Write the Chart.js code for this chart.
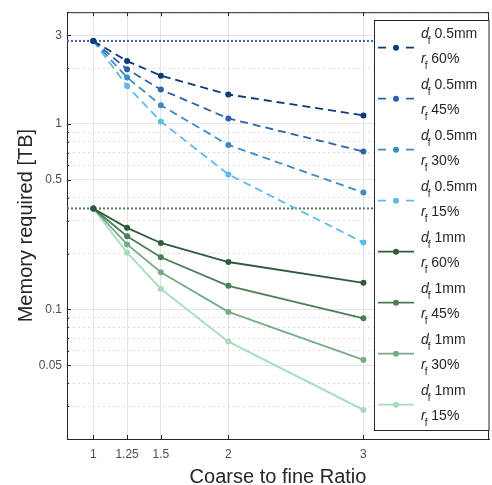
<!DOCTYPE html>
<html>
<head>
<meta charset="utf-8">
<script src="https://cdn.jsdelivr.net/npm/chart.js@4.4.1/dist/chart.umd.min.js"></script>
<style>
  html, body { margin: 0; padding: 0; background: #fff; }
  #wrap { width: 492px; height: 485px; }
</style>
</head>
<body>
<div id="wrap"><canvas id="memChart"></canvas></div>
<script>
// Coarse to fine ratio (x)
const ratios = [1, 1.25, 1.5, 2, 3];

// Memory required [TB], d_f 0.5mm
const d05_r60 = [2.8, 2.18, 1.82, 1.44, 1.11];
const d05_r45 = [2.8, 1.97, 1.53, 1.07, 0.71];
const d05_r30 = [2.8, 1.78, 1.26, 0.77, 0.426];
const d05_r15 = [2.8, 1.60, 1.03, 0.534, 0.229];

// Memory required [TB], d_f 1mm
const d1_r60 = [0.35, 0.275, 0.228, 0.180, 0.139];
const d1_r45 = [0.35, 0.248, 0.191, 0.134, 0.0895];
const d1_r30 = [0.35, 0.224, 0.1585, 0.0969, 0.0534];
const d1_r15 = [0.35, 0.202, 0.129, 0.067, 0.0287];

// dotted reference levels (full resolution)
const refBlue = 2.8;
const refGreen = 0.35;

// legend text
const dfLabels = ['0.5mm', '0.5mm', '0.5mm', '0.5mm', '1mm', '1mm', '1mm', '1mm'];
const rfLabels = ['60%', '45%', '30%', '15%', '60%', '45%', '30%', '15%'];

// axis ticks
const xTicks = [1, 1.25, 1.5, 2, 3];
const yTicks = [0.02, 0.03, 0.04, 0.05, 0.06, 0.07, 0.08, 0.09, 0.1,
                0.2, 0.3, 0.4, 0.5, 0.6, 0.7, 0.8, 0.9, 1, 2, 3, 4];
const yLabelled = [0.05, 0.1, 0.5, 1, 3];

const X_MIN = 0.805, X_MAX = 3.93;
const FONT = '"Liberation Sans", Arial, Helvetica, sans-serif';
const INK = '#262626';

const seriesData = [d05_r60, d05_r45, d05_r30, d05_r15, d1_r60, d1_r45, d1_r30, d1_r15];
const seriesColors = ['#0d3a78', '#2b64a8', '#3d8cc6', '#5cbbe9',
                      '#2f5b3c', '#4c7d59', '#77ac88', '#a6dbbb'];

function toPoints(vals) {
    return vals.map((v, i) => ({ x: ratios[i], y: v }));
}

const datasets = seriesData.map((vals, i) => ({
    label: dfLabels[i] + ' ' + rfLabels[i],
    data: toPoints(vals),
    borderColor: seriesColors[i],
    backgroundColor: seriesColors[i],
    borderWidth: 1.8,
    borderDash: i < 4 ? [8, 5] : [],
    pointRadius: 3,
    pointBorderWidth: 0,
    pointHoverRadius: 3,
    tension: 0
}));

// reference dotted lines
[[refBlue, '#3f62a3'], [refGreen, '#4f7b58']].forEach(([lvl, col]) => {
    datasets.push({
        label: 'ref',
        data: [{ x: X_MIN, y: lvl }, { x: X_MAX, y: lvl }],
        borderColor: col,
        borderWidth: 2,
        borderDash: [2, 2],
        pointRadius: 0,
        isRef: true
    });
});

// box round the axes, with inward tick marks
const framePlugin = {
    id: 'frame',
    afterDatasetsDraw(chart) {
        const { ctx, chartArea: a, scales } = chart;
        ctx.save();
        ctx.strokeStyle = INK;
        ctx.lineWidth = 1;
        ctx.beginPath();
        ctx.moveTo(a.left, a.top + 0.5);
        ctx.lineTo(a.right - 0.5, a.top + 0.5);
        ctx.lineTo(a.right - 0.5, a.bottom);
        ctx.stroke();
        ctx.beginPath();
        xTicks.forEach(v => {
            const px = Math.round(scales.x.getPixelForValue(v)) + 0.5;
            ctx.moveTo(px, a.bottom); ctx.lineTo(px, a.bottom - 4);
            ctx.moveTo(px, a.top); ctx.lineTo(px, a.top + 4);
        });
        yTicks.forEach(v => {
            const len = yLabelled.includes(v) ? 4 : 2;
            const py = Math.round(scales.y.getPixelForValue(v)) + 0.5;
            ctx.moveTo(a.left, py); ctx.lineTo(a.left + len, py);
            ctx.moveTo(a.right, py); ctx.lineTo(a.right - len, py);
        });
        ctx.stroke();
        ctx.restore();
    }
};

// legend with subscripts, two lines per entry
const legendPlugin = {
    id: 'subLegend',
    afterDraw(chart) {
        const { ctx } = chart;
        const box = { x: 374.5, y: 20.5, w: 114.5, h: 410 };
        ctx.save();
        ctx.fillStyle = '#fff';
        ctx.fillRect(box.x, box.y, box.w, box.h);
        ctx.strokeStyle = INK;
        ctx.lineWidth = 1;
        ctx.strokeRect(box.x, box.y, box.w, box.h);

        const step = 51;
        for (let i = 0; i < 8; i++) {
            const cy = 47.7 + step * i;
            const col = seriesColors[i];
            // sample line
            ctx.strokeStyle = col;
            ctx.lineWidth = 1.8;
            ctx.setLineDash(i < 4 ? [8, 20] : []);
            ctx.beginPath();
            ctx.moveTo(378, cy); ctx.lineTo(414, cy);
            ctx.stroke();
            ctx.setLineDash([]);
            ctx.fillStyle = col;
            ctx.beginPath();
            ctx.arc(396, cy, 3, 0, Math.PI * 2);
            ctx.fill();

            // text
            ctx.fillStyle = INK;
            ctx.textBaseline = 'alphabetic';
            ctx.textAlign = 'left';
            const rows = [['d', dfLabels[i], cy - 9.4], ['r', rfLabels[i], cy + 15.6]];
            rows.forEach(([sym, txt, base]) => {
                let x = 421;
                ctx.font = 'italic 14px ' + FONT;
                ctx.fillText(sym, x, base);
                x += ctx.measureText(sym).width - 1;
                ctx.font = '10px ' + FONT;
                ctx.fillText('f', x, base + 5.5);
                x += ctx.measureText('f').width;
                ctx.font = '14px ' + FONT;
                x += ctx.measureText(' ').width;
                ctx.fillText(txt, x, base);
            });
        }
        ctx.restore();
    }
};

new Chart(document.getElementById('memChart'), {
    type: 'line',
    data: { datasets: datasets },
    options: {
        responsive: true,
        maintainAspectRatio: false,
        animation: false,
        events: [],
        layout: { padding: { left: 0, top: 11, right: 2, bottom: 0 } },
        plugins: {
            legend: { display: false },
            tooltip: { enabled: false }
        },
        scales: {
            x: {
                type: 'linear',
                min: X_MIN,
                max: X_MAX,
                afterBuildTicks: s => { s.ticks = xTicks.map(v => ({ value: v })); },
                afterFit: s => { s.height = 46; },
                ticks: {
                    autoSkip: false,
                    maxRotation: 0,
                    padding: 8,
                    color: '#4d4d4d',
                    font: { family: FONT, size: 12 },
                    callback: v => String(v)
                },
                grid: { color: '#e4e4e4', drawTicks: false },
                border: { color: INK, width: 1 },
                title: {
                    display: true,
                    text: 'Coarse to fine Ratio',
                    color: INK,
                    font: { family: FONT, size: 20, lineHeight: 0.8 },
                    padding: { top: 0, bottom: 0 }
                }
            },
            y: {
                type: 'logarithmic',
                min: 0.02,
                max: 4,
                afterBuildTicks: s => { s.ticks = yTicks.map(v => ({ value: v })); },
                afterFit: s => { s.width = 67; },
                ticks: {
                    autoSkip: false,
                    padding: 5,
                    color: '#4d4d4d',
                    font: { family: FONT, size: 12 },
                    callback: v => yLabelled.includes(v) ? String(v) : ''
                },
                grid: {
                    drawTicks: false,
                    color: c => (c.tick && yLabelled.includes(c.tick.value)) ? '#e4e4e4' : '#dcdcdc'
                },
                border: {
                    color: INK,
                    width: 1,
                    dash: c => (c.tick && !yLabelled.includes(c.tick.value)) ? [2, 3] : []
                },
                title: {
                    display: true,
                    text: 'Memory required [TB]',
                    color: INK,
                    font: { family: FONT, size: 20, lineHeight: 1.2 },
                    padding: { top: 14, bottom: 0 }
                }
            }
        }
    },
    plugins: [framePlugin, legendPlugin]
});
</script>
</body>
</html>
